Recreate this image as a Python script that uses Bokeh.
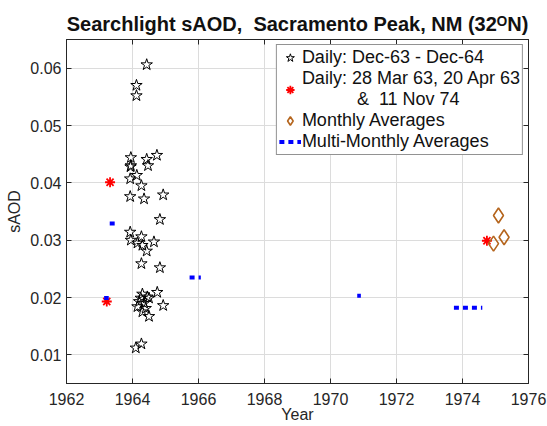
from bokeh.plotting import figure
from bokeh.models import (LinearAxis, FixedTicker, PrintfTickFormatter, Range1d,
                          Legend, LegendItem, ColumnDataSource, CustomJSTickFormatter)
from bokeh.embed import file_html
from bokeh.resources import INLINE

# ---------------- data ----------------
daily_year = [1964.43, 1964.12, 1964.12, 1963.95, 1964.43, 1964.74, 1963.94, 1964.13,
              1963.93, 1964.27, 1963.93, 1964.35, 1964.93, 1964.83, 1963.93, 1963.95,
              1964.27, 1964.15, 1964.30, 1964.65, 1964.43, 1964.27, 1964.83, 1964.75,
              1964.30, 1964.50, 1964.20, 1964.35, 1964.15, 1964.93, 1964.40, 1964.30,
              1964.50, 1964.25, 1964.45, 1964.27, 1964.10, 1963.95, 1964.47]
daily_saod = [0.0606, 0.0570, 0.0552, 0.0444, 0.0441, 0.0448, 0.0428, 0.0413,
              0.0407, 0.0395, 0.0376, 0.0372, 0.0379, 0.0336, 0.0314, 0.0300,
              0.0306, 0.0295, 0.0291, 0.0297, 0.0281, 0.0259, 0.0252, 0.0209,
              0.0206, 0.0199, 0.0193, 0.0190, 0.0184, 0.0186, 0.0181, 0.0175,
              0.0167, 0.0199, 0.0201, 0.0119, 0.0112, 0.0430, 0.0430]

sel_year = [1963.32, 1963.22, 1974.74]          # 28 Mar 63, 20 Apr 63, 11 Nov 74
sel_saod = [0.0401, 0.0193, 0.0299]

month_year = [1974.94, 1975.09, 1975.26]
month_saod = [0.0294, 0.0343, 0.0305]

multi_start = [1963.14, 1963.31, 1965.73, 1970.81, 1973.74]
multi_end = [1963.28, 1963.46, 1966.07, 1970.92, 1974.60]
multi_saod = [0.0199, 0.0329, 0.0235, 0.0203, 0.0182]

x_ticks = [1962, 1964, 1966, 1968, 1970, 1972, 1974, 1976]
y_ticks = [0.01, 0.02, 0.03, 0.04, 0.05, 0.06]

FONT = "Liberation Sans"
INK = "#262626"
BROWN = "#b5651d"
NB = "\u00a0"

p = figure(width=547, height=426,
           x_range=Range1d(1962, 1976), y_range=Range1d(0.005, 0.065),
           output_backend="svg", toolbar_location=None,
           min_border_left=66, min_border_right=19, min_border_top=39, min_border_bottom=43)

p.title.text = "Searchlight sAOD," + NB + " Sacramento Peak, NM (32\u1D3CN)"
p.title.align = "center"
p.title.text_font = FONT
p.title.text_font_size = "20px"
p.title.text_font_style = "bold"
p.title.text_color = "#111111"
p.title.standoff = 9

xt = FixedTicker(ticks=x_ticks)
yt = FixedTicker(ticks=y_ticks)

p.xaxis.ticker = xt
p.yaxis.ticker = yt
p.yaxis.formatter = PrintfTickFormatter(format="%.2f")
p.xaxis.axis_label = "Year"
p.yaxis.axis_label = "sAOD"

for ax in (p.xaxis[0], p.yaxis[0]):
    ax.major_tick_in = 5
    ax.major_tick_out = 0
    ax.minor_tick_line_color = None
    ax.axis_line_color = INK
    ax.major_tick_line_color = INK
    ax.major_label_text_color = INK
    ax.major_label_text_font = FONT
    ax.major_label_text_font_size = "16px"
    ax.axis_label_text_font = FONT
    ax.axis_label_text_font_size = "16px"
    ax.axis_label_text_font_style = "normal"
    ax.axis_label_text_color = INK
p.xaxis.major_label_standoff = 9
p.xaxis.axis_label_standoff = -2
p.yaxis.major_label_standoff = 5
p.yaxis.axis_label_standoff = 4

blank = CustomJSTickFormatter(code="return ''")
for loc, tk in (("above", xt), ("right", yt)):
    ax = LinearAxis(ticker=tk, formatter=blank, major_label_text_font_size="1px",
                    major_label_standoff=0,
                    major_tick_in=5, major_tick_out=0, minor_tick_line_color=None,
                    axis_line_color=INK, major_tick_line_color=INK)
    p.add_layout(ax, loc)

p.xgrid.ticker = xt
p.ygrid.ticker = yt
p.xgrid.grid_line_color = "#dcdcdc"
p.ygrid.grid_line_color = "#dcdcdc"
p.outline_line_color = INK

# ---------------- glyphs ----------------
r_daily = p.scatter(daily_year, daily_saod, marker="star", size=12, fill_alpha=0,
                    line_color="black", line_width=1)
r_sel = p.scatter(sel_year, sel_saod, marker="asterisk", size=10,
                  line_color="red", line_width=1.8)
r_month = p.scatter(month_year, month_saod, marker="diamond", size=15, fill_alpha=0,
                    line_color=BROWN, line_width=1.6)
src_multi = ColumnDataSource(dict(x0=multi_start, x1=multi_end, y=multi_saod))
r_multi = p.segment(x0="x0", y0="y", x1="x1", y1="y", source=src_multi,
                    line_color="#0000ff", line_width=4, line_dash="5 4", line_cap="butt")

legend = Legend(items=[
    LegendItem(label="Daily: Dec-63 - Dec-64", renderers=[r_daily]),
    LegendItem(label="Daily: 28 Mar 63, 20 Apr 63\n" + NB * 11 + "&" + NB + " 11 Nov 74",
               renderers=[r_sel]),
    LegendItem(label="Monthly Averages", renderers=[r_month]),
    LegendItem(label="Multi-Monthly Averages", renderers=[r_multi]),
], location="top_right", margin=5, padding=2, spacing=0, glyph_width=22, glyph_height=21,
    label_height=21, label_standoff=1, label_text_font=FONT, label_text_font_size="18px",
    label_text_color="#111111", border_line_color=INK, border_line_width=1,
    background_fill_color="white", background_fill_alpha=1)
p.add_layout(legend)

open("out.html", "w").write(file_html(p, INLINE))
